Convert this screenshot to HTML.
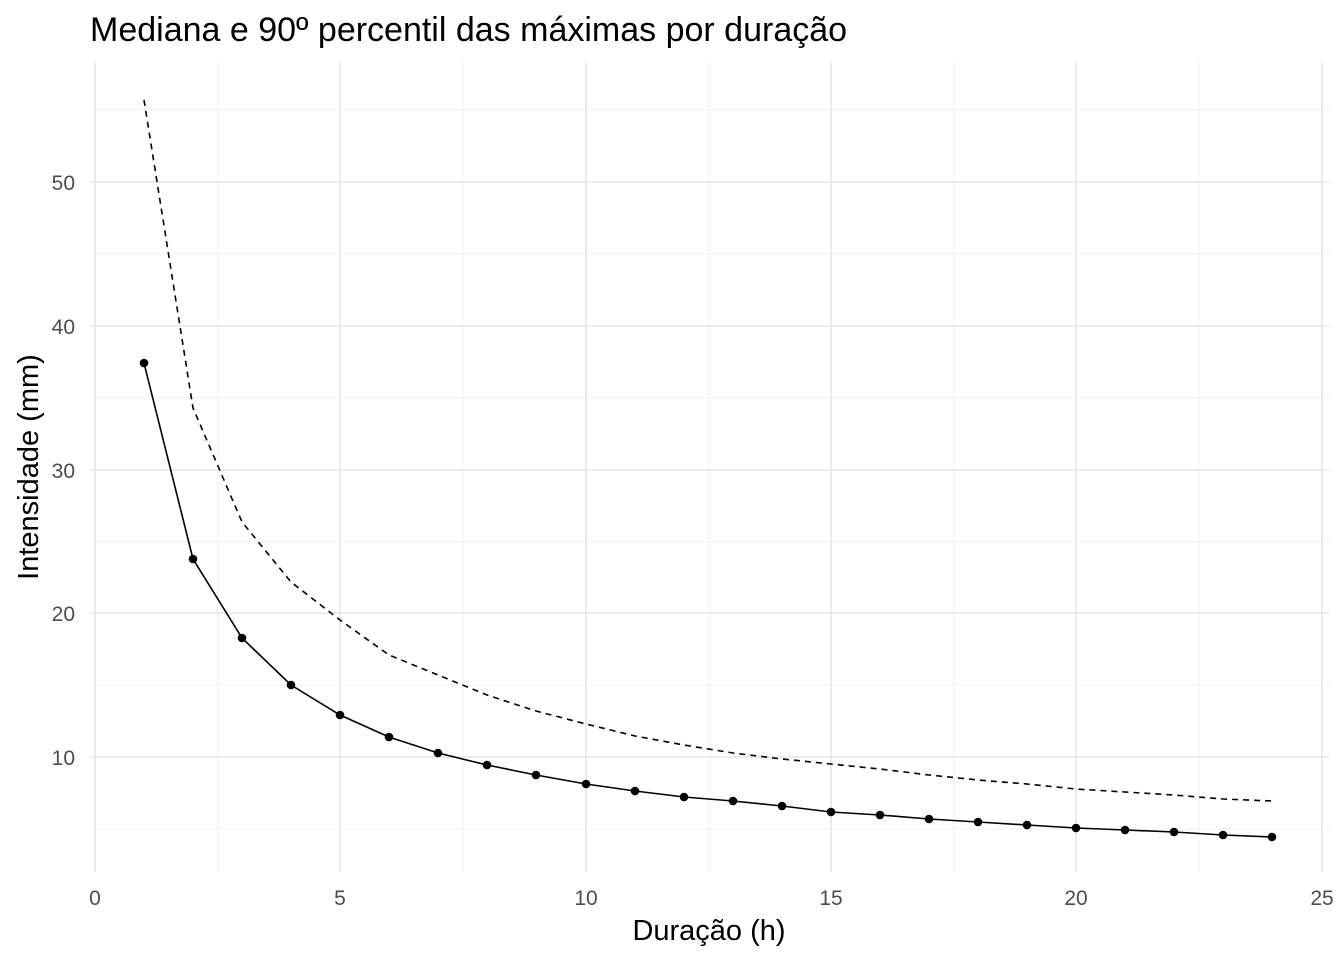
<!DOCTYPE html>
<html><head><meta charset="utf-8"><style>body{margin:0;background:#fff}svg{display:block}</style></head><body>
<svg width="1344" height="960" xmlns="http://www.w3.org/2000/svg" font-family="Liberation Sans, sans-serif">
<rect width="1344" height="960" fill="#fff"/>
<g stroke="#f0f0f0" stroke-width="1">
<line x1="90" x2="1330" y1="829" y2="829"/><line x1="90" x2="1330" y1="685" y2="685"/><line x1="90" x2="1330" y1="542" y2="542"/><line x1="90" x2="1330" y1="398" y2="398"/><line x1="90" x2="1330" y1="254" y2="254"/><line x1="90" x2="1330" y1="110" y2="110"/>
<line y1="62" y2="872" x1="218" x2="218"/><line y1="62" y2="872" x1="463" x2="463"/><line y1="62" y2="872" x1="709" x2="709"/><line y1="62" y2="872" x1="954" x2="954"/><line y1="62" y2="872" x1="1199" x2="1199"/>
</g>
<g stroke="#e6e6e6" stroke-width="1.6">
<line x1="90" x2="1330" y1="757" y2="757"/><line x1="90" x2="1330" y1="613" y2="613"/><line x1="90" x2="1330" y1="470" y2="470"/><line x1="90" x2="1330" y1="326" y2="326"/><line x1="90" x2="1330" y1="182" y2="182"/>
<line y1="62" y2="872" x1="95" x2="95"/><line y1="62" y2="872" x1="340" x2="340"/><line y1="62" y2="872" x1="586" x2="586"/><line y1="62" y2="872" x1="831" x2="831"/><line y1="62" y2="872" x1="1076" x2="1076"/><line y1="62" y2="872" x1="1322" x2="1322"/>
</g>
<polyline fill="none" stroke="#000" stroke-width="1.6" stroke-dasharray="6,5" points="144,100 193,408 242,522 291,582 340,620 389,655 438,675 487,695 536,711 586,724 635,736 684,745 733,753 782,759 831,764 880,769 929,775 978,780 1027,784 1076,789 1125,792 1174,795 1223,799 1272,801"/>
<polyline fill="none" stroke="#000" stroke-width="1.6" points="144,363 193,559 242,638 291,685 340,715 389,737 438,753 487,765 536,775 586,784 635,791 684,797 733,801 782,806 831,812 880,815 929,819 978,822 1027,825 1076,828 1125,830 1174,832 1223,835 1272,837"/>
<g fill="#000">
<circle cx="144" cy="363" r="4.3"/><circle cx="193" cy="559" r="4.3"/><circle cx="242" cy="638" r="4.3"/><circle cx="291" cy="685" r="4.3"/><circle cx="340" cy="715" r="4.3"/><circle cx="389" cy="737" r="4.3"/><circle cx="438" cy="753" r="4.3"/><circle cx="487" cy="765" r="4.3"/><circle cx="536" cy="775" r="4.3"/><circle cx="586" cy="784" r="4.3"/><circle cx="635" cy="791" r="4.3"/><circle cx="684" cy="797" r="4.3"/><circle cx="733" cy="801" r="4.3"/><circle cx="782" cy="806" r="4.3"/><circle cx="831" cy="812" r="4.3"/><circle cx="880" cy="815" r="4.3"/><circle cx="929" cy="819" r="4.3"/><circle cx="978" cy="822" r="4.3"/><circle cx="1027" cy="825" r="4.3"/><circle cx="1076" cy="828" r="4.3"/><circle cx="1125" cy="830" r="4.3"/><circle cx="1174" cy="832" r="4.3"/><circle cx="1223" cy="835" r="4.3"/><circle cx="1272" cy="837" r="4.3"/>
</g>
<g fill="#4d4d4d" font-size="21" text-anchor="end">
<text x="75" y="765">10</text><text x="75" y="621">20</text><text x="75" y="478">30</text><text x="75" y="334">40</text><text x="75" y="190">50</text>
</g>
<g fill="#4d4d4d" font-size="21" text-anchor="middle">
<text x="95" y="905">0</text><text x="340" y="905">5</text><text x="586" y="905">10</text><text x="831" y="905">15</text><text x="1076" y="905">20</text><text x="1322" y="905">25</text>
</g>
<text x="709" y="940" font-size="29" text-anchor="middle">Duração (h)</text>
<text transform="translate(38,467) rotate(-90)" font-size="29" text-anchor="middle">Intensidade (mm)</text>
<text x="90" y="41" font-size="34">Mediana e 90º percentil das máximas por duração</text>
</svg>
</body></html>
